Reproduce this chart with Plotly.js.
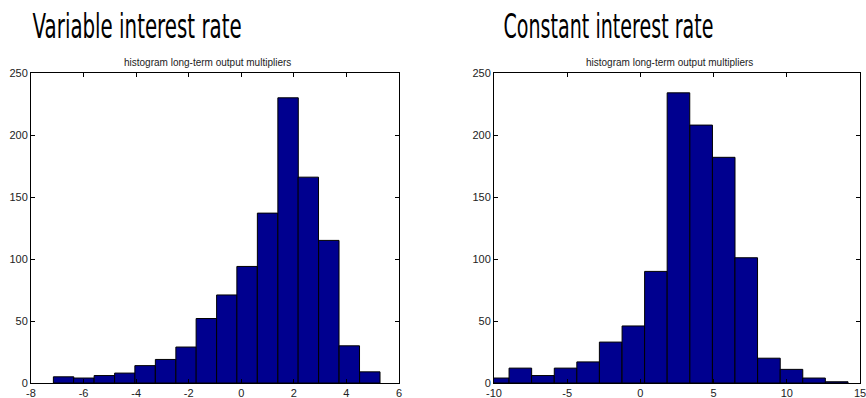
<!DOCTYPE html>
<html>
<head>
<meta charset="utf-8">
<script src="https://cdn.plot.ly/plotly-3.0.1.min.js"></script>
<style>html,body{margin:0;padding:0;background:#fff;}#chart{width:866px;height:398px;}</style>
</head>
<body>
<div id="chart"></div>
<script>
// Left panel: variable interest rate (bin centers and counts)
const varCenters = [-6.76, -5.99, -5.21, -4.43, -3.66, -2.88, -2.10, -1.33, -0.55, 0.22, 1.00, 1.78, 2.55, 3.33, 4.11, 4.89];
const varCounts  = [5, 4, 6, 8, 14, 19, 29, 52, 71, 94, 137, 230, 166, 115, 30, 9];
const varBinWidth = 0.777;

// Right panel: constant interest rate
const conCenters = [-9.74, -8.20, -6.66, -5.11, -3.57, -2.03, -0.48, 1.06, 2.60, 4.15, 5.69, 7.23, 8.78, 10.32, 11.86, 13.41];
const conCounts  = [4, 12, 6, 12, 17, 33, 46, 90, 234, 208, 182, 101, 20, 11, 4, 1];
const conBinWidth = 1.543;

const varTicks = [-8, -6, -4, -2, 0, 2, 4, 6];
const conTicks = [-10, -5, 0, 5, 10, 15];
const yTicks = [0, 50, 100, 150, 200, 250];

const panelTitles = ["Variable interest rate", "Constant interest rate"];
const subTitle = "histogram long-term output multipliers";

const barColor = "#00008F";
const fontTick = {family: "Liberation Sans, Arial, sans-serif", size: 11, color: "#222"};

function barTrace(x, y, w, xa, ya) {
  return {
    type: "bar", x: x, y: y, width: w, xaxis: xa, yaxis: ya,
    marker: {color: barColor, line: {color: "#000", width: 1}},
    hoverinfo: "x+y", showlegend: false
  };
}

const data = [
  barTrace(varCenters, varCounts, varBinWidth, "x", "y"),
  barTrace(conCenters, conCounts, conBinWidth, "x2", "y2")
];

function xAxis(domain, range, ticks, anchor) {
  return {
    domain: domain, range: range, anchor: anchor,
    tickvals: ticks, ticktext: ticks.map(String),
    ticks: "inside", ticklen: 4, tickcolor: "#000", tickwidth: 1,
    showline: true, linecolor: "#000", linewidth: 1, mirror: "ticks",
    showgrid: false, zeroline: false, tickfont: fontTick, fixedrange: true,
    ticklabeloverflow: "allow"
  };
}
function yAxis(domain, anchor) {
  return {
    domain: domain, range: [0, 250], anchor: anchor,
    tickvals: yTicks, ticktext: yTicks.map(String),
    ticks: "inside", ticklen: 4, tickcolor: "#000", tickwidth: 1,
    showline: true, linecolor: "#000", linewidth: 1, mirror: "ticks",
    showgrid: false, zeroline: false, tickfont: fontTick, fixedrange: true
  };
}

const W = 866, H = 398;
const yDom = [15 / H, 325 / H];
const titleFont = {family: "DejaVu Sans, sans-serif", size: 33, color: "#000"};
const subFont = {family: "Liberation Sans, Arial, sans-serif", size: 10, color: "#222"};

const layout = {
  width: W, height: H,
  margin: {l: 0, r: 0, t: 0, b: 0},
  paper_bgcolor: "#fff", plot_bgcolor: "#fff",
  bargap: 0,
  xaxis: xAxis([31 / W, 399 / W], [-8, 6], varTicks, "y"),
  yaxis: yAxis(yDom, "x"),
  xaxis2: xAxis([494 / W, 860 / W], [-10, 15], conTicks, "y2"),
  yaxis2: yAxis(yDom, "x2"),
  annotations: [
    {text: panelTitles[0], xref: "paper", yref: "paper", x: 136.5 / W, y: 1 - 5 / H, xanchor: "center", yanchor: "top", showarrow: false, font: titleFont},
    {text: panelTitles[1], xref: "paper", yref: "paper", x: 608 / W, y: 1 - 5 / H, xanchor: "center", yanchor: "top", showarrow: false, font: titleFont},
    {text: subTitle, xref: "paper", yref: "paper", x: 207 / W, y: 1 - 62 / H, xanchor: "center", yanchor: "middle", showarrow: false, font: subFont},
    {text: subTitle, xref: "paper", yref: "paper", x: 669 / W, y: 1 - 62 / H, xanchor: "center", yanchor: "middle", showarrow: false, font: subFont}
  ]
};

Plotly.newPlot("chart", data, layout, {displayModeBar: false, staticPlot: true}).then(function () {
  // Condense the big panel titles to mimic the narrow typeface of the original
  const texts = document.querySelectorAll(".annotation-text");
  const widths = [209, 210];
  for (let i = 0; i < 2 && i < texts.length; i++) {
    texts[i].setAttribute("textLength", widths[i]);
    texts[i].setAttribute("lengthAdjust", "spacingAndGlyphs");
  }
});
</script>
</body>
</html>
